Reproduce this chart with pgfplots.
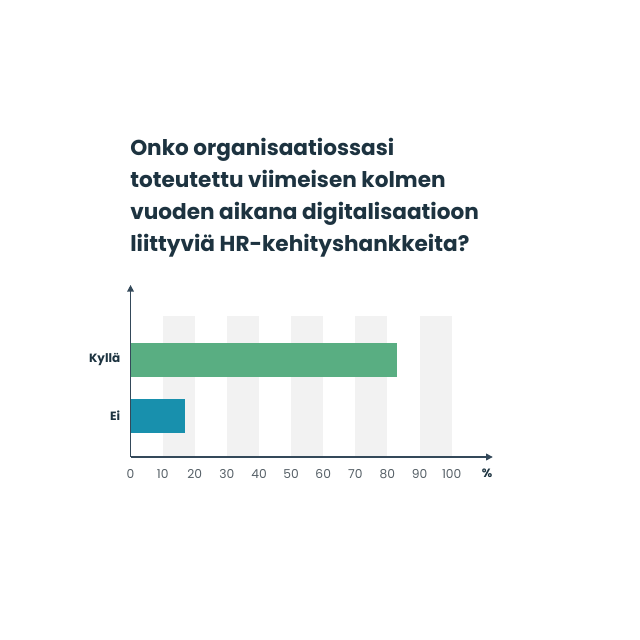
\documentclass[border=0pt]{standalone}
\usepackage{fontspec}
\setmainfont{Poppins}
\usepackage{pgfplots}
\pgfplotsset{compat=1.18}
\usetikzlibrary{arrows.meta}

\definecolor{titleCol}{HTML}{1D3340}
\definecolor{axisCol}{HTML}{34495A}
\definecolor{tickCol}{HTML}{555F66}
\definecolor{stripeCol}{HTML}{F2F2F2}
\definecolor{kyllaCol}{HTML}{59AE82}
\definecolor{eiCol}{HTML}{1890AD}

\begin{document}
\begin{tikzpicture}
% canvas 640px = 480bp; positions are px*0.75bp, y from the bottom
\path (0bp,0bp) rectangle (480bp,480bp);
% title
\begin{scope}[every node/.style={anchor=base west, inner sep=0pt, text=titleCol, font=\bfseries\fontsize{16.2bp}{19bp}\selectfont}]
\node at (97.5bp,363.2bp) {Onko organisaatiossasi};
\node at (97.5bp,339.4bp) {toteutettu viimeisen kolmen};
\node at (97.5bp,315.5bp) {vuoden aikana digitalisaatioon};
\node at (97.5bp,291.7bp) {liittyviä HR-kehityshankkeita?};
\end{scope}

\begin{axis}[
at={(97.9bp,137.25bp)}, anchor=south west,
width=271.7bp, height=129bp,
scale only axis,
xmin=0, xmax=112.8,
ymin=0, ymax=172,
axis x line=bottom, axis y line=left,
axis line style={draw=axisCol, line width=1bp, -{Triangle[length=5bp,width=5bp]}},
axis on top,
clip=false,
xtick={0,10,...,100},
ytick={41.2,97.3},
yticklabels={Ei,Kyllä},
major tick length=0pt,
/pgf/number format/assume math mode=true,
xticklabel style={font=\fontsize{9.2bp}{10bp}\selectfont, text=tickCol, anchor=north, inner sep=0pt, yshift=-8.8bp},
yticklabel style={font=\bfseries\fontsize{9bp}{10bp}\selectfont, text=titleCol, anchor=east, inner sep=0pt, xshift=-7.5bp},
]
% background stripes
\fill[stripeCol] (axis cs:10,0) rectangle (axis cs:20,141);
\fill[stripeCol] (axis cs:30,0) rectangle (axis cs:40,141);
\fill[stripeCol] (axis cs:50,0) rectangle (axis cs:60,141);
\fill[stripeCol] (axis cs:70,0) rectangle (axis cs:80,141);
\fill[stripeCol] (axis cs:90,0) rectangle (axis cs:100,141);
% data
\addplot[xbar, bar width=34, fill=kyllaCol, draw=none] coordinates {(83,97.3)};
\addplot[xbar, bar width=34, fill=eiCol, draw=none] coordinates {(17,41.2)};
\node[anchor=center, inner sep=0pt, text=titleCol, font=\bfseries\fontsize{9bp}{10bp}\selectfont] at (axis cs:111,-16.3) {\%};
\end{axis}
\end{tikzpicture}
\end{document}
